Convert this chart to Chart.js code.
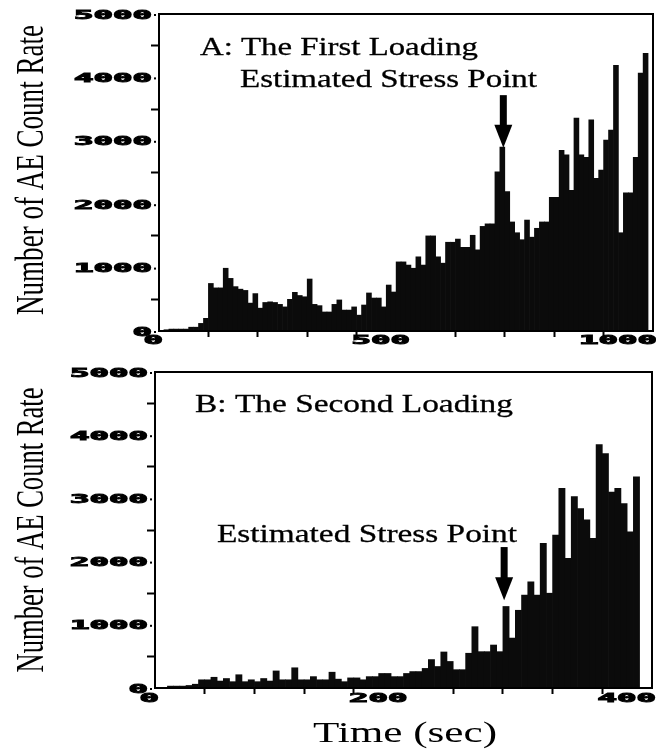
<!DOCTYPE html>
<html><head><meta charset="utf-8">
<script src="https://cdn.jsdelivr.net/npm/chart.js@4.4.1/dist/chart.umd.min.js"></script>
<style>
html,body{margin:0;padding:0;background:#fff;width:656px;height:751px;overflow:hidden}
canvas{position:absolute;left:0}
#c1{top:0}
#c2{top:352px}
</style></head><body>
<canvas id="c1" width="656" height="352"></canvas>
<canvas id="c2" width="656" height="399"></canvas>
<script>
// ---------------- data ----------------
const topBinSec = 10;       // first loading: AE counts per 10 s bin, from t = 0
const topCounts = [
  0, 20, 30, 30, 30, 30, 60, 60, 120, 200,
  750, 680, 680, 990, 830, 700, 660, 640, 440, 590,
  360, 450, 460, 450, 420, 380, 500, 610, 560, 540,
  820, 420, 400, 300, 300, 420, 490, 330, 330, 380,
  250, 410, 600, 520, 520, 380, 725, 615, 1090, 1090,
  1040, 990, 1170, 1040, 1500, 1500, 1170, 1070, 1400, 1400,
  1450, 1320, 1320, 1510, 1280, 1650, 1690, 1690, 2510, 2900,
  2200, 1720, 1550, 1440, 1750, 1480, 1620, 1720, 1720, 2110,
  2110, 2850, 2780, 2220, 3360, 2780, 2740, 3330, 2410, 2540,
  3010, 3170, 4190, 1550, 2180, 2180, 2740, 4070, 4380
];
const bottomBinSec = 5;     // second loading: AE counts per 5 s bin, from t = 0
const bottomCounts = [
  0, 0, 30, 30, 30, 40, 60, 130, 130, 170,
  110, 150, 100, 210, 100, 130, 100, 150, 110, 270,
  130, 130, 320, 130, 130, 180, 130, 130, 250, 140,
  100, 160, 160, 130, 180, 180, 230, 230, 180, 180,
  230, 260, 260, 310, 450, 340, 570, 420, 290, 290,
  550, 970, 575, 575, 680, 575, 1290, 790, 1230, 1470,
  1680, 1470, 2290, 1500, 2420, 3160, 2050, 3030, 2840, 2660,
  2370, 3850, 3710, 3100, 3160, 2920, 2470, 3340
];
const yTickLabels = [0, 1000, 2000, 3000, 4000, 5000];
const topXTickLabels = [0, 500, 1000];
const bottomXTickLabels = [0, 200, 400];
const yTitle = 'Number of AE Count Rate';
const xTitle = 'Time (sec)';
const topPanelTitle = 'A: The First Loading';
const bottomPanelTitle = 'B: The Second Loading';
const stressLabel = 'Estimated Stress Point';
const topStress = {time: 697, from: 3720, to: 2890};
const bottomStress = {time: 281, from: 2230, to: 1390};

// ---------------- helpers ----------------
const TICK_FONT = 'bold 12px "DejaVu Sans Mono"';
const TICK_CHAR_W = 19.5;
const SERIF = '"Liberation Serif", "DejaVu Serif", serif';

function drawText(ctx, text, x, y, o) {
  ctx.save();
  ctx.font = o.font;
  ctx.fillStyle = '#000';
  ctx.strokeStyle = '#000';
  ctx.textAlign = 'left';
  ctx.textBaseline = o.baseline || 'alphabetic';
  const w = ctx.measureText(text).width;
  const sx = o.width ? o.width / w : (o.sx || 1);
  ctx.translate(x, y);
  if (o.rotate) ctx.rotate(o.rotate);
  ctx.scale(sx, 1);
  let ox = 0;
  if (o.align === 'right') ox = -w;
  else if (o.align === 'center') ox = -w / 2;
  ctx.fillText(text, ox, 0);
  if (o.stroke) { ctx.lineWidth = o.stroke; ctx.strokeText(text, ox, 0); }
  ctx.restore();
}

function drawArrow(ctx, x, yTop, yTip) {
  const headH = 23, shaftW = 7, headW = 18;
  ctx.fillStyle = '#000';
  ctx.fillRect(x - shaftW / 2, yTop, shaftW, yTip - headH - yTop + 1);
  ctx.beginPath();
  ctx.moveTo(x - headW / 2, yTip - headH);
  ctx.lineTo(x + headW / 2, yTip - headH);
  ctx.lineTo(x, yTip);
  ctx.closePath();
  ctx.fill();
}

function decorPlugin(cfg) {
  return {
    id: 'decor_' + cfg.name,
    afterDraw(chart) {
      const {ctx, chartArea: a} = chart;
      const xs = chart.scales.x, ys = chart.scales.y;
      ctx.save();
      ctx.strokeStyle = '#000';
      ctx.lineWidth = 2;
      ctx.strokeRect(a.left, a.top, a.right - a.left, a.bottom - a.top);
      ctx.font = TICK_FONT;
      const sx = TICK_CHAR_W / ctx.measureText('0').width;
      yTickLabels.forEach(v => {
        const py = ys.getPixelForValue(v);
        drawText(ctx, String(v), a.left - 7, py + 4.5, {font: TICK_FONT, sx, align: 'right', stroke: 0.9});
        ctx.fillStyle = '#000';
        ctx.fillRect(a.left - 5, py, 2, 2);
      });
      cfg.xLabels.forEach(v => {
        const px = xs.getPixelForValue(v);
        drawText(ctx, String(v), px + 4, cfg.xLabelBase, {font: TICK_FONT, sx, align: 'right', stroke: 0.9});
      });
      // y axis title
      drawText(ctx, yTitle, cfg.yTitleX, cfg.yTitleY, {font: '40px ' + SERIF, width: cfg.yTitleW, align: 'center', rotate: -Math.PI / 2});
      // panel texts
      cfg.texts.forEach(t => drawText(ctx, t.text, t.x, t.y, {font: '26px ' + SERIF, width: t.w, stroke: 0.3}));
      // arrow
      drawArrow(ctx, xs.getPixelForValue(cfg.arrow.time), ys.getPixelForValue(cfg.arrow.from), ys.getPixelForValue(cfg.arrow.to));
      if (cfg.xTitle) {
        drawText(ctx, xTitle, cfg.xTitle.x, cfg.xTitle.y, {font: '30px ' + SERIF, width: cfg.xTitle.w, align: 'center'});
      }
      ctx.restore();
    }
  };
}

function makeChart(id, counts, binSec, xMax, xStep, labeled, leftW, pad, xH, plugin) {
  const data = counts.map((c, i) => ({x: i * binSec + binSec / 2, y: c}));
  return new Chart(document.getElementById(id), {
    type: 'bar',
    data: {datasets: [{data, backgroundColor: '#0b0b0b', borderWidth: 0,
      barPercentage: 1, categoryPercentage: 1}]},
    options: {
      responsive: false, animation: false, devicePixelRatio: 1,
      layout: {padding: pad},
      plugins: {legend: {display: false}, tooltip: {enabled: false}},
      scales: {
        x: {type: 'linear', min: 0, max: xMax, offset: false,
          ticks: {display: false, stepSize: xStep},
          grid: {offset: false, drawOnChartArea: false, drawTicks: true, tickLength: 6, tickWidth: 2,
            tickColor: c => (c.tick && labeled.includes(c.tick.value)) ? 'rgba(0,0,0,0)' : '#000'},
          border: {display: true, color: '#000', width: 2},
          afterFit: s => { s.height = xH; }},
        y: {min: 0, max: 5000,
          ticks: {display: false, stepSize: 500},
          grid: {drawOnChartArea: false, drawTicks: true, tickLength: 8, tickWidth: 2,
            tickColor: c => (c.tick && c.tick.value % 1000 === 0) ? 'rgba(0,0,0,0)' : '#000'},
          border: {display: true, color: '#000', width: 2},
          afterFit: s => { s.width = leftW; }}
      }
    },
    plugins: [plugin]
  });
}

makeChart('c1', topCounts, topBinSec, 1000, 100, topXTickLabels, 159,
  {top: 14, right: 3, left: 0, bottom: 0}, 21,
  decorPlugin({name: 'top', xLabels: topXTickLabels, xLabelBase: 344,
    yTitleX: 43, yTitleY: 170, yTitleW: 290,
    texts: [{text: topPanelTitle, x: 200, y: 55, w: 278}, {text: stressLabel, x: 240, y: 87, w: 297}],
    arrow: topStress}));

makeChart('c2', bottomCounts, bottomBinSec, 400, 40, bottomXTickLabels, 155,
  {top: 20, right: 4, left: 0, bottom: 0}, 63,
  decorPlugin({name: 'bottom', xLabels: bottomXTickLabels, xLabelBase: 350,
    yTitleX: 43, yTitleY: 178, yTitleW: 285,
    texts: [{text: bottomPanelTitle, x: 195, y: 60, w: 318}, {text: stressLabel, x: 217, y: 190, w: 300}],
    arrow: bottomStress, xTitle: {x: 405, y: 390, w: 184}}));
</script>
</body></html>
